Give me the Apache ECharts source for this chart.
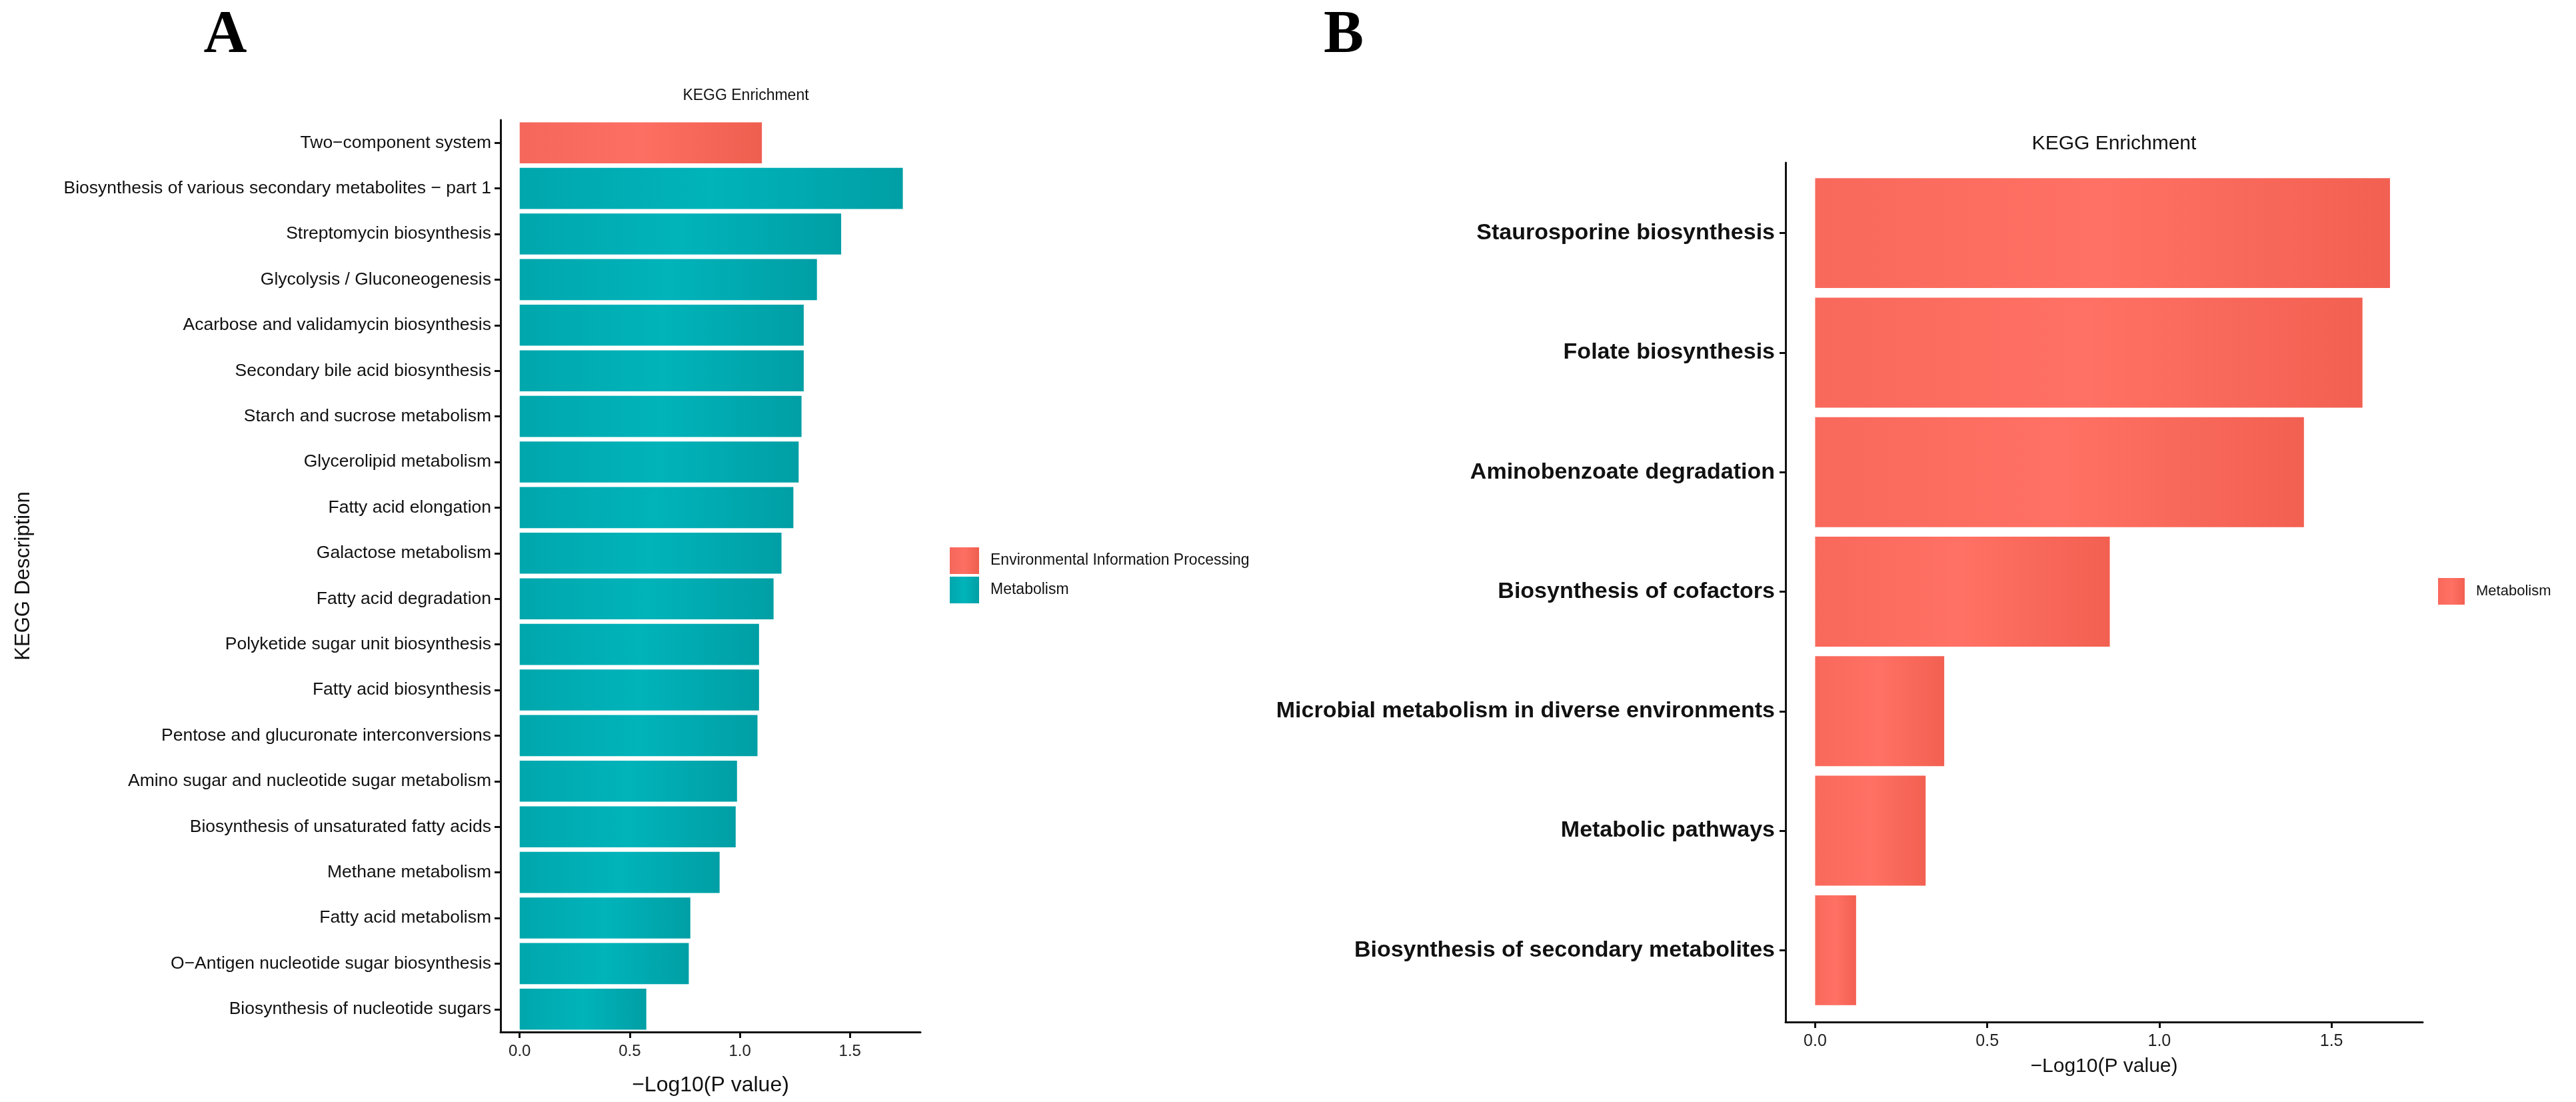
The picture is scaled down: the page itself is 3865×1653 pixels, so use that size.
<!DOCTYPE html>
<html>
<head>
<meta charset="utf-8">
<script src="https://cdn.jsdelivr.net/npm/echarts@6/dist/echarts.min.js"></script>
<style>
  html, body { margin: 0; padding: 0; background: #fff; }
  #chart { width: 3865px; height: 1653px; }
</style>
</head>
<body>
<div id="chart"></div>
<script>
// panel A data (KEGG enrichment, top to bottom)
const catsA = [
  'Two\u2212component system',
  'Biosynthesis of various secondary metabolites \u2212 part 1',
  'Streptomycin biosynthesis',
  'Glycolysis / Gluconeogenesis',
  'Acarbose and validamycin biosynthesis',
  'Secondary bile acid biosynthesis',
  'Starch and sucrose metabolism',
  'Glycerolipid metabolism',
  'Fatty acid elongation',
  'Galactose metabolism',
  'Fatty acid degradation',
  'Polyketide sugar unit biosynthesis',
  'Fatty acid biosynthesis',
  'Pentose and glucuronate interconversions',
  'Amino sugar and nucleotide sugar metabolism',
  'Biosynthesis of unsaturated fatty acids',
  'Methane metabolism',
  'Fatty acid metabolism',
  'O\u2212Antigen nucleotide sugar biosynthesis',
  'Biosynthesis of nucleotide sugars'
]
const valsA = [1.10, 1.74, 1.46, 1.35, 1.29, 1.29, 1.28, 1.267, 1.243, 1.189,
  1.153, 1.087, 1.087, 1.08, 0.987, 0.981, 0.908, 0.775, 0.768, 0.575]
const groupA = ['Environmental Information Processing'].concat(new Array(19).fill('Metabolism'))
const legendA = ['Environmental Information Processing', 'Metabolism']

// panel B data
const catsB = [
  'Staurosporine biosynthesis',
  'Folate biosynthesis',
  'Aminobenzoate degradation',
  'Biosynthesis of cofactors',
  'Microbial metabolism in diverse environments',
  'Metabolic pathways',
  'Biosynthesis of secondary metabolites'
]
const valsB = [1.67, 1.59, 1.42, 0.856, 0.375, 0.321, 0.119]

const tickVals = [0, 0.5, 1.0, 1.5]

// shaded fills like the original
function fill(c0, c1, c2) {
  return new echarts.graphic.LinearGradient(0, 0, 1, 0, [
    { offset: 0, color: c0 },
    { offset: 0.5, color: c1 },
    { offset: 1, color: c2 }
  ])
}
const colors = {
  'Environmental Information Processing': fill('#F4675A', '#FD6F62', '#EF5F50'),
  'Metabolism': fill('#00A7AD', '#00B4BA', '#009FA5')
}
const redB = fill('#F8695C', '#FF7164', '#F26051')

const fontSans = 'Liberation Sans, Arial, sans-serif'
const black = '#111'
const axisLineStyle = { color: black, width: 3 }

function valueAxis(grid, min, max, fs, nameFs, gap, offset) {
  return {
    type: 'value',
    gridIndex: grid,
    min: min,
    max: max,
    offset: offset,
    name: '\u2212Log10(P value)',
    nameLocation: 'middle',
    nameGap: gap,
    nameTextStyle: { fontSize: nameFs, color: black, fontFamily: fontSans },
    splitLine: { show: false },
    axisLine: { show: true, lineStyle: axisLineStyle },
    axisTick: { show: true, length: 9, customValues: tickVals, lineStyle: axisLineStyle },
    axisLabel: {
      customValues: tickVals,
      formatter: v => v.toFixed(1),
      fontSize: fs, color: '#222', margin: 17, fontFamily: fontSans
    }
  }
}

const chart = echarts.init(document.getElementById('chart'))

const seriesA = legendA.map(g => ({
  name: g,
  type: 'bar',
  xAxisIndex: 0,
  yAxisIndex: 0,
  stack: 'A',
  barWidth: '90%',
  itemStyle: { color: colors[g] },
  data: valsA.map((v, i) => groupA[i] === g ? v : '-')
}))

const letterStyle = { fontFamily: 'Liberation Serif, Times New Roman, serif', fontWeight: 'bold', fontSize: 90, color: '#000' }

const option = {
  backgroundColor: '#fff',
  animation: false,
  title: [
    { text: 'A', left: 338, top: 10, textAlign: 'center', padding: 0, textStyle: letterStyle },
    { text: 'B', left: 2016, top: 10, textAlign: 'center', padding: 0, textStyle: letterStyle },
    { text: 'KEGG Enrichment', left: 1119, top: 132, textAlign: 'center', padding: 0,
      textStyle: { fontFamily: fontSans, fontWeight: 'normal', fontSize: 23, color: black } },
    { text: 'KEGG Enrichment', left: 3172, top: 201, textAlign: 'center', padding: 0,
      textStyle: { fontFamily: fontSans, fontWeight: 'normal', fontSize: 30, color: black } }
  ],
  legend: [
    {
      data: legendA,
      orient: 'vertical',
      left: 1425,
      top: 821,
      icon: 'rect',
      itemWidth: 44,
      itemHeight: 40,
      itemGap: 4,
      padding: 0,
      selectedMode: false,
      textStyle: { fontSize: 23, color: black, fontFamily: fontSans, padding: [0, 0, 0, 12] }
    },
    {
      data: [{ name: 'Metabolism', itemStyle: { color: redB } }],
      orient: 'vertical',
      left: 3658,
      top: 867,
      icon: 'rect',
      itemWidth: 40,
      itemHeight: 40,
      padding: 0,
      selectedMode: false,
      textStyle: { fontSize: 22, color: black, fontFamily: fontSans, padding: [0, 0, 0, 12] }
    }
  ],
  grid: [
    { left: 751, top: 180, width: 630, height: 1368 },
    // panel B bars, with category padding like ggplot
    { left: 2679, top: 260, width: 956, height: 1255 },
    // panel B frame, full panel height
    { left: 2679, top: 244, width: 956, height: 1289 }
  ],
  xAxis: [
    valueAxis(0, -0.087, 1.82, 24, 32, 64, 0),
    valueAxis(1, -0.086, 1.765, 25, 30, 52, 18),
    { type: 'value', gridIndex: 2, show: false }
  ],
  yAxis: [
    {
      type: 'category',
      gridIndex: 0,
      data: catsA,
      inverse: true,
      name: 'KEGG Description',
      nameLocation: 'middle',
      nameRotate: 90,
      nameGap: 700,
      nameTextStyle: { fontSize: 31, color: black, fontFamily: fontSans },
      axisLine: { show: true, onZero: false, lineStyle: axisLineStyle },
      axisTick: { show: true, alignWithLabel: true, length: 9, lineStyle: axisLineStyle },
      axisLabel: { fontSize: 26.5, color: black, margin: 14, fontFamily: fontSans }
    },
    {
      type: 'category',
      gridIndex: 1,
      data: catsB,
      inverse: true,
      axisLine: { show: false, onZero: false },
      axisTick: { show: true, alignWithLabel: true, length: 9, lineStyle: axisLineStyle },
      axisLabel: { fontSize: 34, fontWeight: 'bold', color: black, margin: 16, fontFamily: fontSans }
    },
    {
      type: 'value',
      gridIndex: 2,
      min: 0,
      max: 1,
      axisLine: { show: true, onZero: false, lineStyle: axisLineStyle },
      axisTick: { show: false },
      axisLabel: { show: false },
      splitLine: { show: false }
    }
  ],
  series: seriesA.concat([
    {
      name: 'Metabolism',
      type: 'bar',
      xAxisIndex: 1,
      yAxisIndex: 1,
      barWidth: '92%',
      itemStyle: { color: redB },
      data: valsB
    }
  ])
}

chart.setOption(option)
</script>
</body>
</html>
